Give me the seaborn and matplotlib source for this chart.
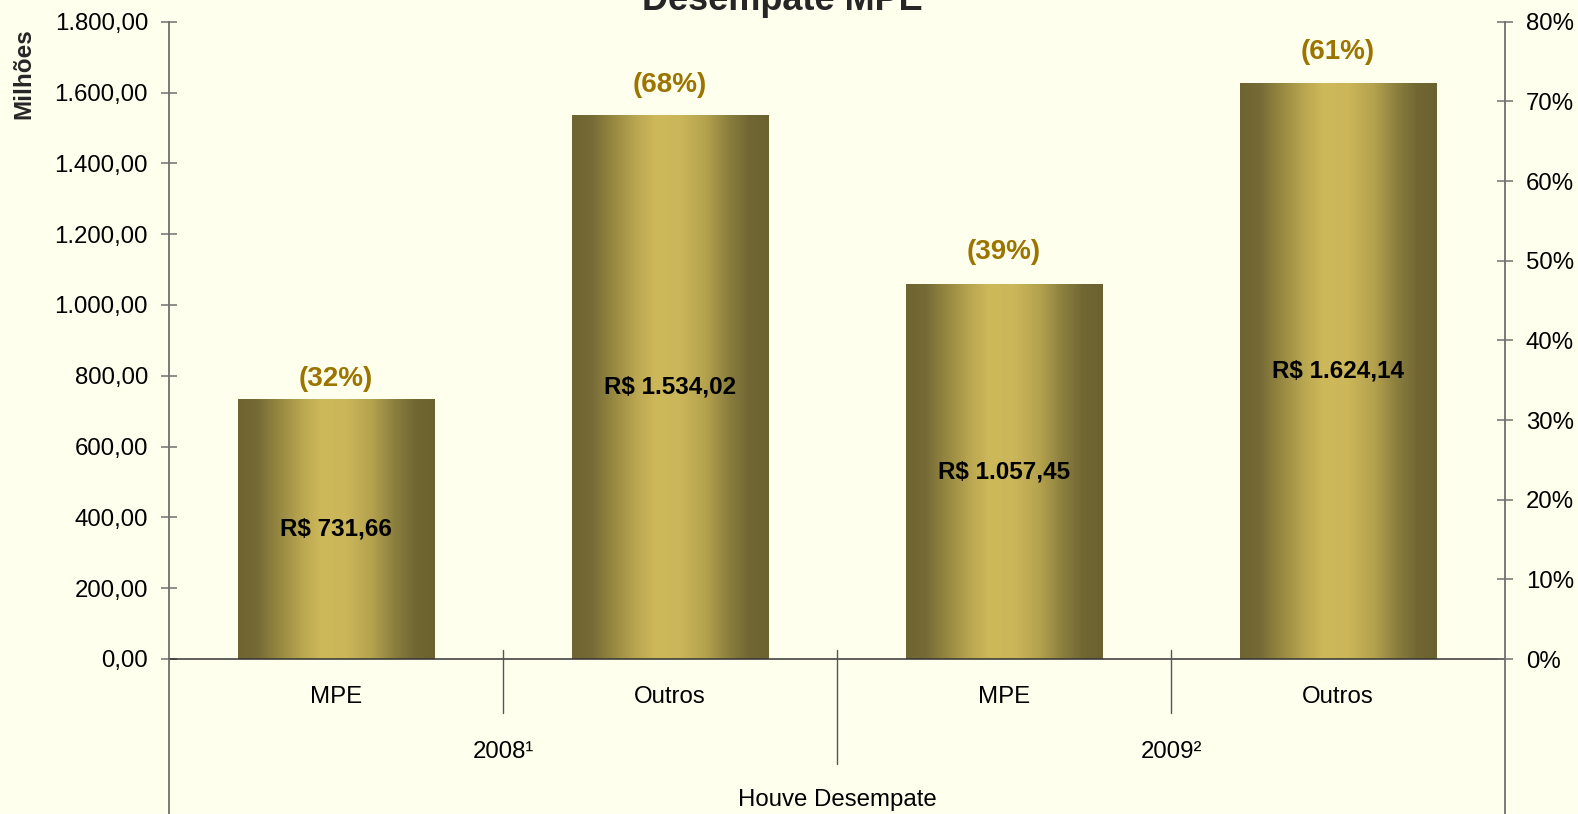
import numpy as np
import pandas as pd
import matplotlib
matplotlib.use("Agg")
import matplotlib.pyplot as plt
import matplotlib.transforms as mtransforms
from matplotlib.colors import LinearSegmentedColormap
import seaborn as sns

# ---------------- data ----------------
anos = ["2008¹", "2008¹", "2009²", "2009²"]
tipos = ["MPE", "Outros", "MPE", "Outros"]
valores = [731.66, 1534.02, 1057.45, 1624.14]
percentuais = ["(32%)", "(68%)", "(39%)", "(61%)"]
valor_labels = ["R$ 731,66", "R$ 1.534,02", "R$ 1.057,45", "R$ 1.624,14"]
y_ticks = [0, 200, 400, 600, 800, 1000, 1200, 1400, 1600, 1800]
pct_ticks = [0, 10, 20, 30, 40, 50, 60, 70, 80]
titulo = "Desempate MPE"
eixo_x_titulo = "Houve Desempate"
eixo_y_titulo = "Milhões"

# ---------------- style ----------------
BG = "#FFFFEE"
GREY = "#6f6f6f"
GOLD_TXT = "#9C7400"
pct_label_offsets_px = [21, 31, 33, 32]
sns.set_theme(style="white")
plt.rcParams["font.family"] = ["Liberation Sans", "DejaVu Sans"]

W, H = 1578, 814
fig = plt.figure(figsize=(W / 100, H / 100), dpi=100, facecolor=BG)
ax_left, ax_right, ax_top, ax_bot = 169, 1505, 21.7, 659
ax = fig.add_axes([ax_left / W, (H - ax_bot) / H, (ax_right - ax_left) / W, (ax_bot - ax_top) / H])
ax.set_facecolor(BG)

df = pd.DataFrame({"ano": anos, "tipo": tipos, "valor": valores})
df["cat"] = [f"{a}|{t}" for a, t in zip(anos, tipos)]
sns.barplot(data=df, x="cat", y="valor", width=0.587, color="#CDB85A",
            saturation=1, errorbar=None, ax=ax, zorder=2)

cmap = LinearSegmentedColormap.from_list(
    "gold",
    [(0.0, "#6E6431"), (0.1, "#766B36"), (0.2, "#948640"), (0.32, "#B8A550"),
     (0.42, "#CDB85A"), (0.55, "#CBB659"), (0.68, "#B4A24E"), (0.8, "#8A7E3E"),
     (0.9, "#716733"), (1.0, "#6C6230")])
grad = np.linspace(0, 1, 256).reshape(1, -1)

patches = list(ax.patches)
for p in patches:
    x0, w, h = p.get_x(), p.get_width(), p.get_height()
    ax.imshow(grad, extent=[x0, x0 + w, 0, h], aspect="auto", cmap=cmap,
              interpolation="bicubic", zorder=2)
    p.set_facecolor("none")
    p.set_edgecolor("none")

ax.set_xlim(-0.5, 3.5)
ax.set_ylim(0, 1800)

def fmt_br(v):
    s = f"{v:,.2f}"
    return s.replace(",", "X").replace(".", ",").replace("X", ".")

ax.set_yticks(y_ticks)
ax.set_yticklabels([fmt_br(v) for v in y_ticks])
ax.tick_params(axis="y", direction="inout", length=12.2, width=1.1, color=GREY,
               pad=9, labelsize=17.3, labelcolor="black", left=True)
ax.set_xticks([])
ax.set_xlabel("")
ax.set_ylabel("")
for s in ["top", "right"]:
    ax.spines[s].set_visible(False)
ax.spines["left"].set_color(GREY)
ax.spines["left"].set_linewidth(1.3)
ax.spines["bottom"].set_color("#333333")
ax.spines["bottom"].set_linewidth(1.1)

# secondary axis
ax2 = ax.twinx()
ax2.set_ylim(0, 80)
ax2.set_yticks(pct_ticks)
ax2.set_yticklabels([f"{v}%" for v in pct_ticks])
ax2.tick_params(axis="y", direction="inout", length=12.2, width=1.1, color=GREY,
                pad=9, labelsize=17.3, labelcolor="black", right=True)
ax2.grid(False)
ax.grid(False)
for s in ["top", "left", "bottom"]:
    ax2.spines[s].set_visible(False)
ax2.spines["right"].set_color(GREY)
ax2.spines["right"].set_linewidth(1.3)
ax2.patch.set_visible(False)

# labels on bars
for p, pct, vl, off in zip(patches, percentuais, valor_labels, pct_label_offsets_px):
    cx = p.get_x() + p.get_width() / 2
    h = p.get_height()
    ax.annotate(pct, xy=(cx, h), xytext=(0, off * 0.72), textcoords="offset points",
                ha="center", va="center", fontsize=20, fontweight="bold",
                color=GOLD_TXT, zorder=5)
    ax.text(cx, h / 2, vl, ha="center", va="center", fontsize=17.5,
            fontweight="bold", color="black", zorder=5)

# hierarchical category axis
trans = mtransforms.blended_transform_factory(ax.transData, ax.transAxes)
axh = ax_bot - ax_top
def fy(px):  # pixel y (from top) -> axes fraction
    return (ax_bot - px) / axh

for xe in [-0.5, 3.5]:
    ax.plot([xe, xe], [0, fy(H + 5)], transform=trans, clip_on=False,
            color=GREY, lw=1.3, zorder=3)
n = len(tipos)
for i in range(n - 1):
    xe = i + 0.5
    same_group = anos[i] == anos[i + 1]
    bottom = fy(713) if same_group else fy(764)
    ax.plot([xe, xe], [fy(650), bottom], transform=trans, clip_on=False,
            color="#555555", lw=1.0, zorder=3)

for i, t in enumerate(tipos):
    ax.text(i, fy(697), t, transform=trans, ha="center", va="center",
            fontsize=17.3, color="black")
grupos = list(dict.fromkeys(anos))
for g in grupos:
    idx = [i for i, a in enumerate(anos) if a == g]
    ax.text(np.mean(idx), fy(751.5), g, transform=trans, ha="center",
            va="center", fontsize=17.3, color="black")
ax.text((n - 1) / 2, fy(800), eixo_x_titulo, transform=trans, ha="center",
        va="center", fontsize=17.3, color="black")

fig.text(24 / W, 1 - 74 / H, eixo_y_titulo, rotation=90, ha="center",
         va="center", fontsize=17.5, fontweight="bold")
fig.text(782 / W, 1 - 10 / H, titulo, ha="center", va="baseline",
         fontsize=26, fontweight="bold")

fig.savefig("out.png", dpi=100, facecolor=BG)
